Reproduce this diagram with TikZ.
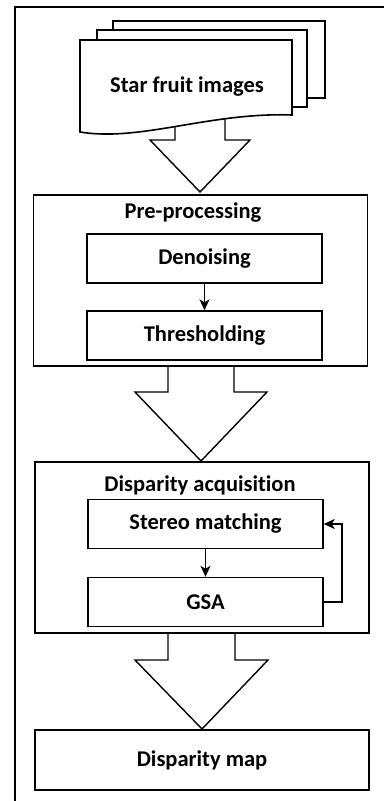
\documentclass[tikz,border=0pt]{standalone}
\usepackage{fontspec}
\setmainfont{Carlito}[Ligatures=NoCommon]
\usetikzlibrary{arrows.meta}
\begin{document}
\begin{tikzpicture}[x=1pt,y=-1pt,
  txt/.style={font=\bfseries\fontsize{22.5}{24}\selectfont},
  lbl/.style={txt, inner sep=0pt},
  outerbox/.style={draw, line width=1.6pt, minimum width=334pt, inner sep=0pt},
  innerbox/.style={draw, line width=1.4pt, minimum width=235pt, minimum height=49pt, inner sep=0pt, txt},
  blockarrow/.style={draw, line width=1.4pt, fill=white, line join=miter},
  conn/.style={line width=1.6pt, -{Stealth[length=11pt,width=10pt,inset=3pt]}},
  doc/.style={draw, line width=1.6pt, fill=white}]
\useasboundingbox (0,0) rectangle (384,801);
% outer frame
\draw[line width=2.2pt] (15,801) -- (15,7) -- (384,7);

% block arrow 1 (behind document)
\draw[blockarrow] (175,118) -- (175,140) -- (150,140) -- (200,192) -- (250,140) -- (225,140) -- (225,118);

% document stack
\draw[doc] (113,21) rectangle (325,98);
\draw[doc] (97,30) rectangle (307,107);
\draw[doc] (80,40) -- (292,40) -- (292,115) .. controls (210,112) and (140,142) .. (80,132) -- cycle;
\node[lbl] (star) at (187,87) {Star fruit images};

% pre-processing
\node[outerbox, minimum height=171pt] (pre) at (200.5,280.5) {};
\node[lbl] (pretitle) at (193,213) {Pre-processing};
\node[innerbox] (den) at (204.5,258.5) {Denoising};
\node[innerbox] (thr) at (204.5,335.5) {Thresholding};
\draw[conn] (den.south) -- (thr.north);

% block arrow 2
\draw[blockarrow] (168,367) -- (168,392) -- (135,392) -- (201,461) -- (267,392) -- (234,392) -- (234,367);

% disparity acquisition
\node[outerbox, minimum height=171pt] (dis) at (202,547.5) {};
\node[lbl] (distitle) at (200,485) {Disparity acquisition};
\node[innerbox] (sm) at (205.5,524) {Stereo matching};
\node[innerbox] (gsa) at (205.5,602) {GSA};
\draw[conn] (sm.south) -- (gsa.north);
\draw[conn] (gsa.east) -- ++(18,0) |- (sm.east);

% block arrow 3
\draw[blockarrow] (168,634) -- (168,660) -- (135,660) -- (202,729) -- (268,660) -- (235,660) -- (235,634);

% disparity map
\node[outerbox, minimum height=60pt, txt] (map) at (202,760) {Disparity map};
\end{tikzpicture}
\end{document}
